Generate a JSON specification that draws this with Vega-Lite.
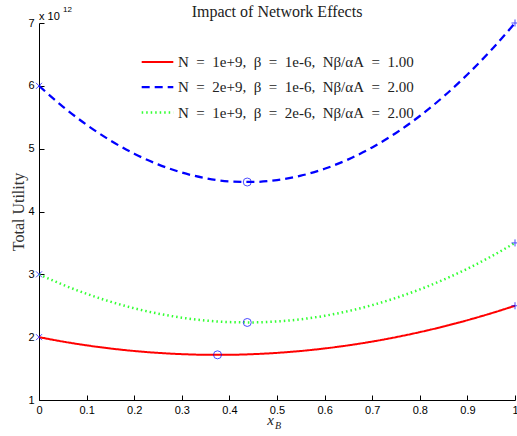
{
  "$schema": "https://vega.github.io/schema/vega-lite/v6.json",
  "width": 476,
  "height": 377,
  "autosize": {"type": "none"},
  "padding": {"left": 39, "top": 23, "right": 2, "bottom": 36},
  "background": "white",
  "title": {"text": "Impact of Network Effects", "font": "Liberation Serif", "fontSize": 16, "fontWeight": "normal", "color": "#222", "offset": 6, "dy": 20},
  "config": {"view": {"stroke": null}, "font": "Liberation Sans"},
  "datasets": {
    "curves": [
      {"x": 0, "y": 2, "s": "N = 1e+9, β = 1e-6, Nβ/αA = 1.00"},
      {"x": 0.05, "y": 1.93, "s": "N = 1e+9, β = 1e-6, Nβ/αA = 1.00"},
      {"x": 0.1, "y": 1.87, "s": "N = 1e+9, β = 1e-6, Nβ/αA = 1.00"},
      {"x": 0.15, "y": 1.82, "s": "N = 1e+9, β = 1e-6, Nβ/αA = 1.00"},
      {"x": 0.2, "y": 1.78, "s": "N = 1e+9, β = 1e-6, Nβ/αA = 1.00"},
      {"x": 0.25, "y": 1.75, "s": "N = 1e+9, β = 1e-6, Nβ/αA = 1.00"},
      {"x": 0.3, "y": 1.73, "s": "N = 1e+9, β = 1e-6, Nβ/αA = 1.00"},
      {"x": 0.35, "y": 1.72, "s": "N = 1e+9, β = 1e-6, Nβ/αA = 1.00"},
      {"x": 0.4, "y": 1.72, "s": "N = 1e+9, β = 1e-6, Nβ/αA = 1.00"},
      {"x": 0.45, "y": 1.73, "s": "N = 1e+9, β = 1e-6, Nβ/αA = 1.00"},
      {"x": 0.5, "y": 1.75, "s": "N = 1e+9, β = 1e-6, Nβ/αA = 1.00"},
      {"x": 0.55, "y": 1.78, "s": "N = 1e+9, β = 1e-6, Nβ/αA = 1.00"},
      {"x": 0.6, "y": 1.82, "s": "N = 1e+9, β = 1e-6, Nβ/αA = 1.00"},
      {"x": 0.65, "y": 1.87, "s": "N = 1e+9, β = 1e-6, Nβ/αA = 1.00"},
      {"x": 0.7, "y": 1.93, "s": "N = 1e+9, β = 1e-6, Nβ/αA = 1.00"},
      {"x": 0.75, "y": 2.0, "s": "N = 1e+9, β = 1e-6, Nβ/αA = 1.00"},
      {"x": 0.8, "y": 2.08, "s": "N = 1e+9, β = 1e-6, Nβ/αA = 1.00"},
      {"x": 0.85, "y": 2.17, "s": "N = 1e+9, β = 1e-6, Nβ/αA = 1.00"},
      {"x": 0.9, "y": 2.27, "s": "N = 1e+9, β = 1e-6, Nβ/αA = 1.00"},
      {"x": 0.95, "y": 2.38, "s": "N = 1e+9, β = 1e-6, Nβ/αA = 1.00"},
      {"x": 1, "y": 2.5, "s": "N = 1e+9, β = 1e-6, Nβ/αA = 1.00"},
      {"x": 0, "y": 6, "s": "N = 2e+9, β = 1e-6, Nβ/αA = 2.00"},
      {"x": 0.05, "y": 5.67, "s": "N = 2e+9, β = 1e-6, Nβ/αA = 2.00"},
      {"x": 0.1, "y": 5.38, "s": "N = 2e+9, β = 1e-6, Nβ/αA = 2.00"},
      {"x": 0.15, "y": 5.13, "s": "N = 2e+9, β = 1e-6, Nβ/αA = 2.00"},
      {"x": 0.2, "y": 4.92, "s": "N = 2e+9, β = 1e-6, Nβ/αA = 2.00"},
      {"x": 0.25, "y": 4.75, "s": "N = 2e+9, β = 1e-6, Nβ/αA = 2.00"},
      {"x": 0.3, "y": 4.62, "s": "N = 2e+9, β = 1e-6, Nβ/αA = 2.00"},
      {"x": 0.35, "y": 4.53, "s": "N = 2e+9, β = 1e-6, Nβ/αA = 2.00"},
      {"x": 0.4, "y": 4.48, "s": "N = 2e+9, β = 1e-6, Nβ/αA = 2.00"},
      {"x": 0.45, "y": 4.47, "s": "N = 2e+9, β = 1e-6, Nβ/αA = 2.00"},
      {"x": 0.5, "y": 4.5, "s": "N = 2e+9, β = 1e-6, Nβ/αA = 2.00"},
      {"x": 0.55, "y": 4.57, "s": "N = 2e+9, β = 1e-6, Nβ/αA = 2.00"},
      {"x": 0.6, "y": 4.68, "s": "N = 2e+9, β = 1e-6, Nβ/αA = 2.00"},
      {"x": 0.65, "y": 4.83, "s": "N = 2e+9, β = 1e-6, Nβ/αA = 2.00"},
      {"x": 0.7, "y": 5.02, "s": "N = 2e+9, β = 1e-6, Nβ/αA = 2.00"},
      {"x": 0.75, "y": 5.25, "s": "N = 2e+9, β = 1e-6, Nβ/αA = 2.00"},
      {"x": 0.8, "y": 5.52, "s": "N = 2e+9, β = 1e-6, Nβ/αA = 2.00"},
      {"x": 0.85, "y": 5.83, "s": "N = 2e+9, β = 1e-6, Nβ/αA = 2.00"},
      {"x": 0.9, "y": 6.18, "s": "N = 2e+9, β = 1e-6, Nβ/αA = 2.00"},
      {"x": 0.95, "y": 6.57, "s": "N = 2e+9, β = 1e-6, Nβ/αA = 2.00"},
      {"x": 1, "y": 7, "s": "N = 2e+9, β = 1e-6, Nβ/αA = 2.00"},
      {"x": 0, "y": 3, "s": "N = 1e+9, β = 2e-6, Nβ/αA = 2.00"},
      {"x": 0.05, "y": 2.835, "s": "N = 1e+9, β = 2e-6, Nβ/αA = 2.00"},
      {"x": 0.1, "y": 2.69, "s": "N = 1e+9, β = 2e-6, Nβ/αA = 2.00"},
      {"x": 0.15, "y": 2.565, "s": "N = 1e+9, β = 2e-6, Nβ/αA = 2.00"},
      {"x": 0.2, "y": 2.46, "s": "N = 1e+9, β = 2e-6, Nβ/αA = 2.00"},
      {"x": 0.25, "y": 2.375, "s": "N = 1e+9, β = 2e-6, Nβ/αA = 2.00"},
      {"x": 0.3, "y": 2.31, "s": "N = 1e+9, β = 2e-6, Nβ/αA = 2.00"},
      {"x": 0.35, "y": 2.265, "s": "N = 1e+9, β = 2e-6, Nβ/αA = 2.00"},
      {"x": 0.4, "y": 2.24, "s": "N = 1e+9, β = 2e-6, Nβ/αA = 2.00"},
      {"x": 0.45, "y": 2.235, "s": "N = 1e+9, β = 2e-6, Nβ/αA = 2.00"},
      {"x": 0.5, "y": 2.25, "s": "N = 1e+9, β = 2e-6, Nβ/αA = 2.00"},
      {"x": 0.55, "y": 2.285, "s": "N = 1e+9, β = 2e-6, Nβ/αA = 2.00"},
      {"x": 0.6, "y": 2.34, "s": "N = 1e+9, β = 2e-6, Nβ/αA = 2.00"},
      {"x": 0.65, "y": 2.415, "s": "N = 1e+9, β = 2e-6, Nβ/αA = 2.00"},
      {"x": 0.7, "y": 2.51, "s": "N = 1e+9, β = 2e-6, Nβ/αA = 2.00"},
      {"x": 0.75, "y": 2.625, "s": "N = 1e+9, β = 2e-6, Nβ/αA = 2.00"},
      {"x": 0.8, "y": 2.76, "s": "N = 1e+9, β = 2e-6, Nβ/αA = 2.00"},
      {"x": 0.85, "y": 2.915, "s": "N = 1e+9, β = 2e-6, Nβ/αA = 2.00"},
      {"x": 0.9, "y": 3.09, "s": "N = 1e+9, β = 2e-6, Nβ/αA = 2.00"},
      {"x": 0.95, "y": 3.285, "s": "N = 1e+9, β = 2e-6, Nβ/αA = 2.00"},
      {"x": 1, "y": 3.5, "s": "N = 1e+9, β = 2e-6, Nβ/αA = 2.00"}
    ],
    "markers": [
      {"x": 0, "y": 2, "m": "start"},
      {"x": 0, "y": 3, "m": "start"},
      {"x": 0, "y": 6, "m": "start"},
      {"x": 1, "y": 2.5, "m": "end"},
      {"x": 1, "y": 3.5, "m": "end"},
      {"x": 1, "y": 7, "m": "end"},
      {"x": 0.375, "y": 1.719, "m": "min"},
      {"x": 0.4375, "y": 4.469, "m": "min"},
      {"x": 0.4375, "y": 2.234, "m": "min"}
    ]
  },
  "layer": [
    {
      "data": {"name": "curves"},
      "mark": {"type": "line", "interpolate": "monotone"},
      "encoding": {
        "x": {"field": "x", "type": "quantitative", "scale": {"domain": [0, 1], "nice": false},
          "axis": {"values": [0, 0.1, 0.2, 0.3, 0.4, 0.5, 0.6, 0.7, 0.8, 0.9, 1], "format": ".1~f", "grid": false, "tickSize": -5, "tickColor": "#000", "domainColor": "#000", "labelFont": "Liberation Sans", "labelFontSize": 11, "labelColor": "#000", "labelPadding": 9, "labelFlush": false,
            "title": "x", "titleFont": "Liberation Serif", "titleFontStyle": "italic", "titleFontWeight": "normal", "titleFontSize": 15, "titleColor": "#222", "titleX": 231, "titleY": 24, "titleAlign": "center", "titleBaseline": "alphabetic"}},
        "y": {"field": "y", "type": "quantitative", "scale": {"domain": [1, 7], "nice": false, "zero": false},
          "axis": {"values": [1, 2, 3, 4, 5, 6, 7], "format": "d", "grid": false, "tickSize": -5, "tickColor": "#000", "domainColor": "#000", "labelFont": "Liberation Sans", "labelFontSize": 11, "labelColor": "#000", "labelPadding": 10,
            "title": "Total Utility", "titleFont": "Liberation Serif", "titleFontWeight": "normal", "titleFontSize": 16, "titleColor": "#333", "titlePadding": 1}},
        "color": {"field": "s", "type": "nominal", "sort": null,
          "scale": {"domain": ["N = 1e+9, β = 1e-6, Nβ/αA = 1.00", "N = 2e+9, β = 1e-6, Nβ/αA = 2.00", "N = 1e+9, β = 2e-6, Nβ/αA = 2.00"], "range": ["#ff0000", "#0000ff", "#33ff33"]},
          "legend": {"title": null, "orient": "none", "legendX": 101, "legendY": 22, "symbolType": "stroke", "symbolSize": 1000, "symbolStrokeWidth": 2, "labelFont": "Liberation Serif", "labelFontSize": 15, "labelColor": "#222", "labelLimit": 400, "rowPadding": -3.5, "labelOffset": 3,
            "labelExpr": "replace(replace(replace(replace(replace(datum.label, ' = ', '\u2002=\u2002'), ' = ', '\u2002=\u2002'), ' = ', '\u2002=\u2002'), ', ', ',\u2002'), ', ', ',\u2002')"}},
        "strokeDash": {"field": "s", "type": "nominal", "sort": null,
          "scale": {"domain": ["N = 1e+9, β = 1e-6, Nβ/αA = 1.00", "N = 2e+9, β = 1e-6, Nβ/αA = 2.00", "N = 1e+9, β = 2e-6, Nβ/αA = 2.00"], "range": [[1, 0], [8, 5], [1.5, 3]]}},
        "strokeWidth": {"field": "s", "type": "nominal", "sort": null,
          "scale": {"domain": ["N = 1e+9, β = 1e-6, Nβ/αA = 1.00", "N = 2e+9, β = 1e-6, Nβ/αA = 2.00", "N = 1e+9, β = 2e-6, Nβ/αA = 2.00"], "range": [2, 2.5, 1.3]}, "legend": null}
      }
    },
    {
      "data": {"name": "markers"},
      "mark": {"type": "point", "filled": false, "stroke": "#0000ff", "strokeWidth": 1},
      "encoding": {
        "x": {"field": "x", "type": "quantitative"},
        "y": {"field": "y", "type": "quantitative"},
        "shape": {"field": "m", "type": "nominal", "scale": {"domain": ["start", "end", "min"], "range": ["M-1,-1L1,1M-1,1L1,-1", "M-1,0L1,0M0,-1L0,1", "circle"]}, "legend": null},
        "size": {"field": "m", "type": "nominal", "scale": {"domain": ["start", "end", "min"], "range": [36, 64, 40]}, "legend": null}
      }
    },
    {
      "data": {"values": [{"x": 0, "y": 7, "t": "x 10"}]},
      "mark": {"type": "text", "align": "left", "baseline": "alphabetic", "dx": 0, "dy": -3, "font": "Liberation Sans", "fontSize": 11, "color": "#000"},
      "encoding": {"x": {"field": "x", "type": "quantitative"}, "y": {"field": "y", "type": "quantitative"}, "text": {"field": "t"}}
    },
    {
      "data": {"values": [{"x": 0, "y": 7, "t": "12"}]},
      "mark": {"type": "text", "align": "left", "baseline": "alphabetic", "dx": 24, "dy": -11, "font": "Liberation Sans", "fontSize": 8, "color": "#000"},
      "encoding": {"x": {"field": "x", "type": "quantitative"}, "y": {"field": "y", "type": "quantitative"}, "text": {"field": "t"}}
    },
    {
      "data": {"values": [{"x": 0.5, "y": 1, "t": "B"}]},
      "mark": {"type": "text", "align": "left", "baseline": "alphabetic", "dx": -2, "dy": 29, "font": "Liberation Serif", "fontStyle": "italic", "fontSize": 10, "color": "#222"},
      "encoding": {"x": {"field": "x", "type": "quantitative"}, "y": {"field": "y", "type": "quantitative"}, "text": {"field": "t"}}
    }
  ]
}
